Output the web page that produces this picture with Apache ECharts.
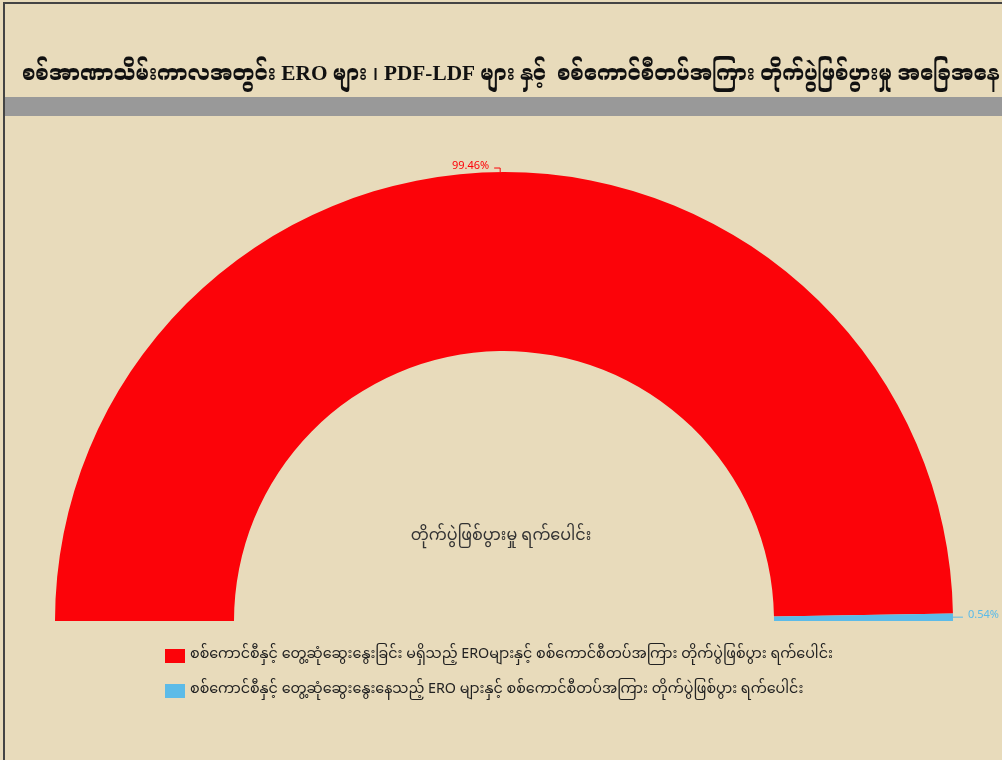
<!DOCTYPE html>
<html>
<head>
<meta charset="utf-8">
<script src="https://cdn.jsdelivr.net/npm/echarts@6.0.0/dist/echarts.min.js"></script>
<style>
  html, body { margin: 0; padding: 0; background: #e8dbbb; }
  #chart { width: 1002px; height: 760px; }
</style>
</head>
<body>
<div id="chart"></div>
<script>
const titleText = 'စစ်အာဏာသိမ်းကာလအတွင်း ERO များ ၊ PDF-LDF များ နှင့်  စစ်ကောင်စီတပ်အကြား တိုက်ပွဲဖြစ်ပွားမှု အခြေအနေ';
const centerText = 'တိုက်ပွဲဖြစ်ပွားမှု ရက်ပေါင်း';
const categories = [
  'စစ်ကောင်စီနှင့် တွေ့ဆုံဆွေးနွေးခြင်း မရှိသည့် EROများနှင့် စစ်ကောင်စီတပ်အကြား တိုက်ပွဲဖြစ်ပွား ရက်ပေါင်း',
  'စစ်ကောင်စီနှင့် တွေ့ဆုံဆွေးနွေးနေသည့် ERO များနှင့် စစ်ကောင်စီတပ်အကြား တိုက်ပွဲဖြစ်ပွား ရက်ပေါင်း'
];
const values = [99.46, 0.54];
const colors = ['#fc0309', '#5cbbe8'];

const font = '"Noto Sans Myanmar", "Padauk", "Myanmar Text", "Noto Sans", sans-serif';
const titleFont = '"Liberation Serif", "Noto Serif Myanmar", "Noto Sans Myanmar", serif';

const chart = echarts.init(document.getElementById('chart'));
chart.setOption({
  backgroundColor: '#e8dbbb',
  animation: false,
  textStyle: { fontFamily: font },
  title: {
    text: titleText,
    left: 17,
    top: 59,
    textStyle: { fontSize: 21.3, fontWeight: 'bold', color: '#111', fontFamily: titleFont }
  },
  graphic: [
    { type: 'rect', shape: { x: 4, y: 97, width: 998, height: 19 }, style: { fill: '#999999' } },
    { type: 'rect', shape: { x: 3, y: 2, width: 999, height: 2 }, style: { fill: '#444' } },
    { type: 'rect', shape: { x: 3, y: 2, width: 2, height: 758 }, style: { fill: '#444' } },
    {
      type: 'text', left: 'center', top: 530,
      style: { text: centerText, fontSize: 16, fill: '#333', fontFamily: font }
    }
  ],
  legend: {
    orient: 'vertical',
    left: 160,
    top: 644,
    itemWidth: 20,
    itemHeight: 14,
    itemGap: 21,
    icon: 'rect',
    textStyle: { fontSize: 14.3, color: '#222', fontFamily: font }
  },
  series: [{
    type: 'pie',
    center: [504, 621],
    radius: [270, 449],
    startAngle: 180,
    endAngle: 0,
    clockwise: true,
    data: categories.map((c, i) => ({ name: c, value: values[i], itemStyle: { color: colors[i] } })),
    label: {
      show: true,
      position: 'outside',
      formatter: (p) => p.value.toFixed(2) + '%',
      fontSize: 11,
      color: 'inherit',
      overflow: 'none'
    },
    labelLine: { show: true, length: 4, length2: 6 }
  }]
});
</script>
</body>
</html>
